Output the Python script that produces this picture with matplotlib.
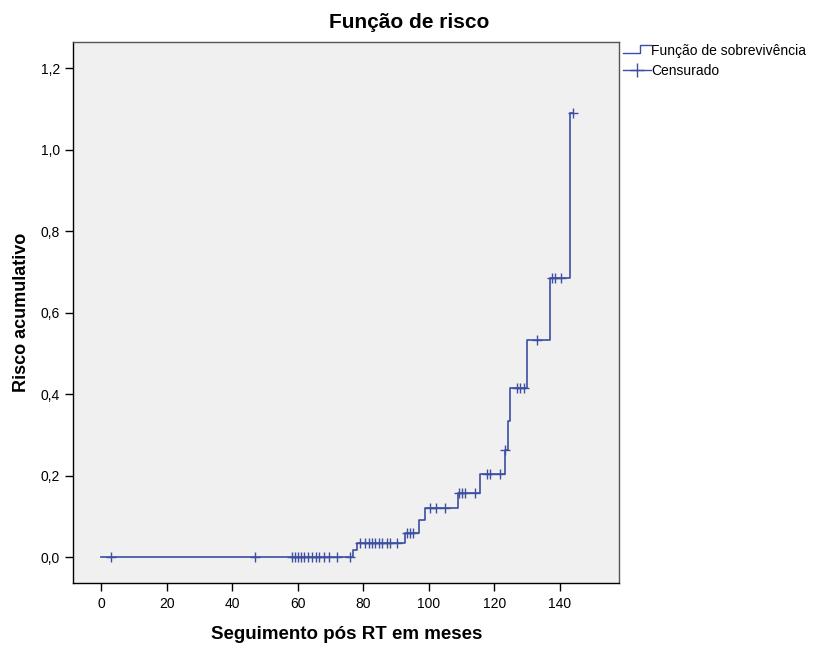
import matplotlib
matplotlib.use("Agg")
import matplotlib.pyplot as plt
from matplotlib.lines import Line2D
from matplotlib.legend_handler import HandlerBase
import numpy as np

plt.rcParams['font.family'] = ['Liberation Sans', 'DejaVu Sans']

# event times (months) and cumulative hazard after each event
event_times = [77.0, 78.0, 92.8, 96.9, 98.9, 108.9, 115.5, 123.1, 124.1, 124.9, 130.0, 137.1, 143.0]
event_risk = [0.016, 0.035, 0.058, 0.091, 0.120, 0.158, 0.205, 0.262, 0.334, 0.414, 0.533, 0.686, 1.091]

# censored times
censored_times = [3, 47, 58.2, 59.2, 60.0, 61.0, 62.0, 63.0, 64.5, 65.5, 66.5, 68.0, 69.5, 72.0, 76.0,
                  79.0, 80.6, 81.6, 82.7, 83.7, 84.7, 85.7, 87.2, 88.2, 90.3,
                  93.3, 94.4, 95.3,
                  100.5, 102.3, 105.0,
                  109.2, 110.1, 111.1, 114.2,
                  117.8, 118.8, 121.8,
                  123.2,
                  126.9, 127.9, 129.0,
                  133.0,
                  137.6, 138.6, 140.2,
                  144.0]

start_time = 0.0
end_time = 144.0
line_color = "#3d4fa0"


def risk_at(t):
    r = 0.0
    for et, er in zip(event_times, event_risk):
        if t >= et:
            r = er
    return r


step_x = [start_time] + event_times + [end_time]
step_y = [0.0] + event_risk + [event_risk[-1]]
cens_y = [risk_at(t) for t in censored_times]


class StepHandler(HandlerBase):
    def create_artists(self, legend, orig_handle, xdescent, ydescent, width, height, fontsize, trans):
        xs = [0, width * 0.6, width * 0.6, width]
        ys = [height * 0.2, height * 0.2, height * 1.0, height * 1.0]
        ln = Line2D(xs, ys, color=line_color, lw=1.0, transform=trans)
        return [ln]


fig = plt.figure(figsize=(8.19, 6.48), dpi=100)
ax = fig.add_axes([0.0895, 0.0998, 0.6667, 0.8358])
ax.set_facecolor("#f0f0f0")

ax.step(step_x, step_y, where="post", color=line_color, lw=1.2)
ax.plot(censored_times, cens_y, linestyle="none", marker="+", markersize=7,
        markeredgewidth=1.0, color=line_color)

ax.set_xlim(-8.45, 158.1)
ax.set_ylim(-0.0646, 1.265)
ax.set_xticks(np.arange(0, 141, 20))
ax.set_yticks(np.arange(0, 1.21, 0.2))
ax.set_yticklabels([f"{v:.1f}".replace(".", ",") for v in np.arange(0, 1.21, 0.2)])
ax.tick_params(direction="out", length=6, width=1.0, labelsize=10, colors="black")
ax.spines["left"].set_color("black")
ax.spines["bottom"].set_color("black")
ax.spines["top"].set_color("#555555")
ax.spines["right"].set_color("#555555")
for s in ax.spines.values():
    s.set_linewidth(1.0)

ax.set_xlabel("Seguimento pós RT em meses", fontsize=13.5, fontweight="bold", labelpad=11)
ax.set_ylabel("Risco acumulativo", fontsize=13, fontweight="bold", labelpad=8)
fig.text(0.5, 0.966, "Função de risco", ha="center", va="center", fontsize=15, fontweight="bold")

h1 = Line2D([], [], color=line_color)
h2 = Line2D([], [], color=line_color, marker="+", markersize=10, lw=1.0)
fig.legend([h1, h2], ["Função de sobrevivência", "Censurado"],
           handler_map={h1: StepHandler()},
           loc="upper left", bbox_to_anchor=(0.7605, 0.932), frameon=False,
           fontsize=10, handlelength=2.0, handletextpad=0.05, labelspacing=0.4,
           borderaxespad=0, borderpad=0)

fig.savefig("out.png", dpi=100)
